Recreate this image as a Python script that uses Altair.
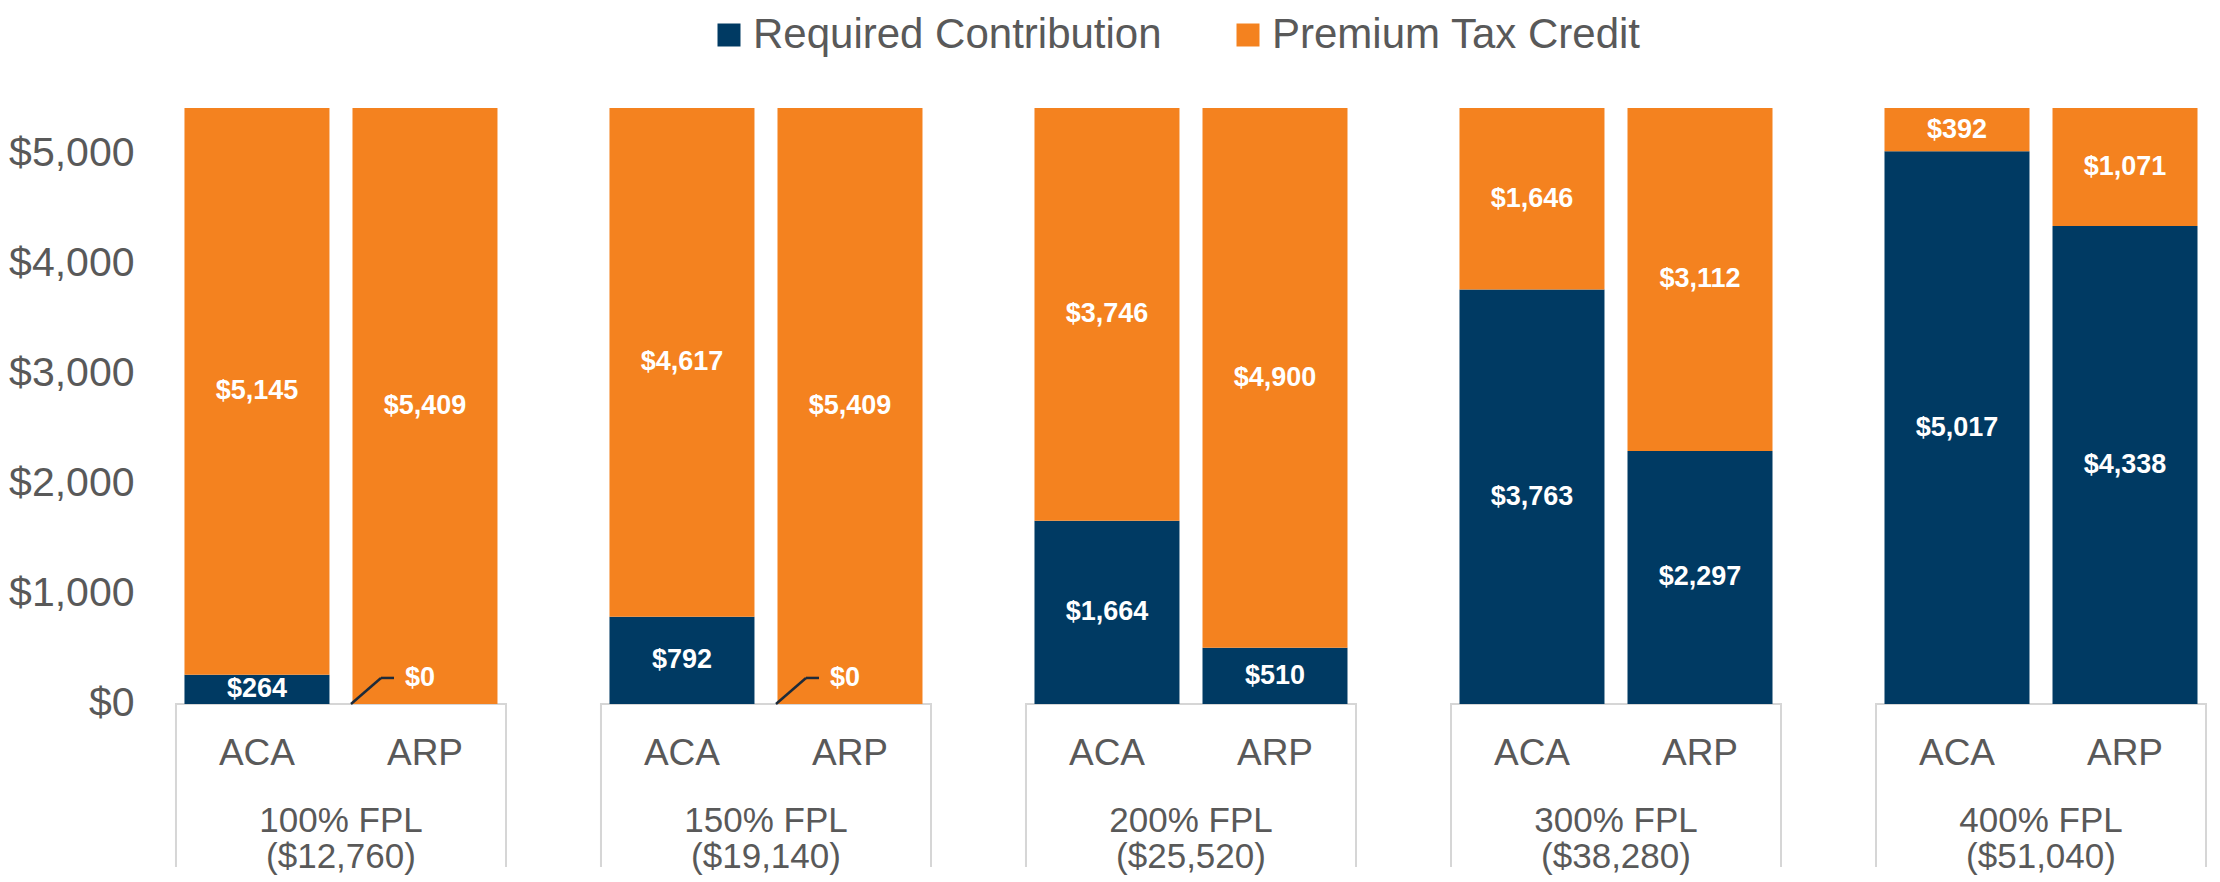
import altair as alt
import pandas as pd

# ---------------- data ----------------
groups = ["100% FPL", "150% FPL", "200% FPL", "300% FPL", "400% FPL"]
incomes = ["($12,760)", "($19,140)", "($25,520)", "($38,280)", "($51,040)"]
schemes = ["ACA", "ARP"]
series = ["Required Contribution", "Premium Tax Credit"]
required_aca = [264, 792, 1664, 3763, 5017]
required_arp = [0, 0, 510, 2297, 4338]
credit_aca = [5145, 4617, 3746, 1646, 392]
credit_arp = [5409, 5409, 4900, 3112, 1071]
y_ticks = [0, 1000, 2000, 3000, 4000, 5000]

# ---------------- styles ----------------
NAVY = "#003a63"
ORANGE = "#f4821f"
GRAY = "#595959"
BOX = "#d6d6d6"
LEADER = "#1d2b3a"
FONT = "Liberation Sans"

rows = []
for i, g in enumerate(groups):
    for s, req, cred in (("ACA", required_aca[i], credit_aca[i]),
                         ("ARP", required_arp[i], credit_arp[i])):
        rows.append(dict(group=g, scheme=s, series=series[0], ord=0, value=req))
        rows.append(dict(group=g, scheme=s, series=series[1], ord=1, value=cred))
df = pd.DataFrame(rows)
cat_df = pd.DataFrame([dict(group=g, scheme=s) for g in groups for s in schemes])
grp_df = pd.DataFrame(dict(group=groups, income=incomes, base=[0] * len(groups)))

X_ENC = alt.X("group:N", sort=groups, axis=None,
              scale=alt.Scale(paddingInner=0.2235, paddingOuter=0.0376, align=0.8125))
XO_ENC = alt.XOffset("scheme:N", sort=schemes,
                     scale=alt.Scale(paddingInner=0.137, paddingOuter=0.0506))
Y_SCALE = alt.Scale(domain=[-1480, 5600], nice=False, zero=False)
Y_AXIS = alt.Axis(values=y_ticks, format="$,.0f", grid=False, domain=False,
                  ticks=False, labelFontSize=41, labelColor=GRAY, orient="left",
                  labelFont=FONT, labelPadding=16, title=None)


def Y(field):
    return alt.Y(field, scale=Y_SCALE, axis=Y_AXIS, title=None)


stacked = alt.Chart(df).transform_stack(
    stack="value", groupby=["group", "scheme"], as_=["y0", "y1"],
    sort=[alt.SortField("ord", order="ascending")]
).transform_calculate(mid="(datum.y0 + datum.y1) / 2")

boxes = alt.Chart(grp_df).mark_rect(
    fill="white", stroke=BOX, strokeWidth=2, clip=True
).encode(
    x=X_ENC,
    y=Y("base:Q"),
    y2=alt.value(900),
)

bars = stacked.mark_bar().encode(
    x=X_ENC,
    xOffset=XO_ENC,
    y=Y("y0:Q"),
    y2="y1:Q",
    color=alt.Color("series:N",
                    scale=alt.Scale(domain=series, range=[NAVY, ORANGE]),
                    legend=alt.Legend(title=None, orient="none", legendX=558, legendY=-73,
                                      direction="horizontal",
                                      symbolType="square",
                                      symbolSize=529, symbolStrokeWidth=0,
                                      labelFontSize=42, labelColor=GRAY, labelFont=FONT,
                                      labelLimit=800, labelOffset=3, columnPadding=65)),
)

value_labels = stacked.transform_filter("datum.value > 0").mark_text(
    font=FONT, fontSize=27, fontWeight="bold", color="white"
).encode(
    x=X_ENC,
    xOffset=XO_ENC,
    y=Y("mid:Q"),
    text=alt.Text("value:Q", format="$,.0f"),
)

zero_df = alt.Chart(df).transform_filter("datum.value == 0")

leader_diag = zero_df.mark_rule(
    color=LEADER, strokeWidth=2.5, xOffset=10, x2Offset=40, y2Offset=-26
).encode(
    x=X_ENC,
    x2=alt.X2("group"),
    y=Y("value:Q"),
    y2=alt.Y2("value"),
)

leader_flat = zero_df.mark_rule(
    color=LEADER, strokeWidth=2.5, xOffset=40, x2Offset=53, yOffset=-26, y2Offset=-26
).encode(
    x=X_ENC,
    x2=alt.X2("group"),
    y=Y("value:Q"),
    y2=alt.Y2("value"),
)

zero_labels = zero_df.mark_text(
    font=FONT, fontSize=27, fontWeight="bold", color="white", dy=-26, dx=-5
).encode(
    x=X_ENC,
    xOffset=XO_ENC,
    y=Y("value:Q"),
    text=alt.Text("value:Q", format="$,.0f"),
)

scheme_labels = alt.Chart(cat_df).mark_text(
    font=FONT, fontSize=37, color=GRAY
).encode(
    x=X_ENC,
    xOffset=XO_ENC,
    y=alt.value(667),
    text="scheme:N",
)

group_labels = alt.Chart(grp_df).mark_text(
    font=FONT, fontSize=35, color=GRAY
).encode(
    x=X_ENC,
    y=alt.value(734),
    text="group:N",
)

income_labels = alt.Chart(grp_df).mark_text(
    font=FONT, fontSize=35, color=GRAY
).encode(
    x=X_ENC,
    y=alt.value(770),
    text="income:N",
)

chart = alt.layer(
    boxes, bars, value_labels, leader_diag, leader_flat, zero_labels,
    scheme_labels, group_labels, income_labels
).properties(
    width=2062,
    height=780,
    autosize=alt.AutoSizeParams(type="none"),
    padding={"left": 142, "top": 79, "right": 0, "bottom": 14},
).configure_view(stroke=None)

chart.save("out.html", embed_options={"renderer": "svg", "actions": False})
